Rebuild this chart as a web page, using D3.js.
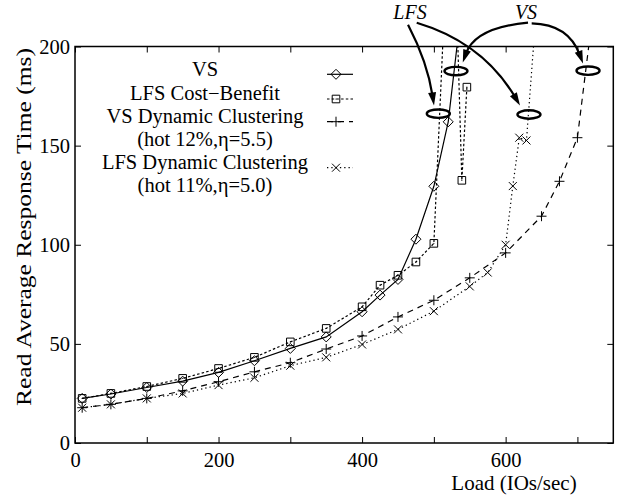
<!DOCTYPE html>
<html>
<head>
<meta charset="utf-8">
<script src="https://cdn.jsdelivr.net/npm/d3@7"></script>
<style>
  body { margin: 0; background: #fff; }
  svg { display: block; }
  text { font-family: "Liberation Serif", "Times New Roman", Times, serif; fill: #000; }
</style>
</head>
<body>
<svg id="chart" width="624" height="497"></svg>
<script>
// ---- data: [load (IOs/sec), read average response time (ms)] ----
const vsPoints = [[10,22.5],[50,24.7],[100,28],[150,31.2],[200,35.6],[250,41.5],[300,47.7],[350,53.5],
  [400,66.2],[425,74.6],[450,82.5],[475,102.8],[500,129.5],[520,162],[545,240]];
const lfsCostBenefitPoints = [[10,22.5],[50,25],[100,28.5],[150,32.6],[200,37.6],[250,43.2],[300,51],[350,57.8],
  [400,68.7],[425,79.6],[450,84.6],[475,91.3],[500,100.7],[516,230],[531,230],[539,132.5],[546,179.5]];
const vsDynamicPoints = [[10,17.8],[50,19.5],[100,22.5],[150,26.3],[200,30.9],[250,35.9],[300,40.5],[350,47.4],
  [400,54],[450,63.6],[500,72],[550,83.3],[600,95.9],[650,114.4],[675,132],[700,154],[726,230]];
const lfsDynamicPoints = [[10,17.8],[50,19.5],[100,22.5],[150,25],[200,29.2],[250,32.9],[300,39],[350,43.2],
  [400,49.7],[450,57.3],[500,66.5],[550,79],[575,86],[600,100],[610,129.6],[619,154],[629,152.6],[645,230]];

const seriesNames = ["VS", "LFS Cost\u2212Benefit", "VS Dynamic Clustering", "LFS Dynamic Clustering"];
const seriesNotes = [null, null, "(hot 12%,\u03b7=5.5)", "(hot 11%,\u03b7=5.0)"];

const xTickValues = [0,100,200,300,400,500,600,700];
const xTickLabels = [0,200,400,600];
const yTickValues = [0,50,100,150,200];

// saturation call-outs (data coordinates)
const calloutLabels = [{text:"LFS", x:466.8, y:214}, {text:"VS", x:628.4, y:214}];
const calloutRings = [[506.2,166.1],[632.5,165.7],[530.8,187.6],[714.8,187.8]];
const calloutArrows = [
  {from:[464,211], ctrl:[491.1,192.2], to:[500.2,170.3]},
  {from:[476.1,212], ctrl:[568.5,202], to:[620,170.3]},
  {from:[631.2,212], ctrl:[557.3,209.6], to:[540.3,191.9]},
  {from:[636.3,211.7], ctrl:[687.7,211.3], to:[707.8,191.4]}
];

// ---- layout ----
const svg = d3.select("#chart");
const plotLeft = 75, plotRight = 613.3, plotTop = 46.5, plotBottom = 443;
const x = d3.scaleLinear().domain([0,750]).range([plotLeft,plotRight]);
const y = d3.scaleLinear().domain([0,200]).range([plotBottom,plotTop]);

svg.append("defs").append("clipPath").attr("id","plotClip")
  .append("rect").attr("x",plotLeft).attr("y",plotTop)
  .attr("width",plotRight-plotLeft).attr("height",plotBottom-plotTop);

// ---- axes (ticks point inward, mirrored on top/right) ----
const fmtX = d => xTickLabels.includes(d) ? d : "";
const axB = svg.append("g").attr("transform",`translate(0,${plotBottom})`)
  .call(d3.axisBottom(x).tickValues(xTickValues).tickSizeInner(-6).tickSizeOuter(0).tickPadding(9).tickFormat(fmtX));
const axT = svg.append("g").attr("transform",`translate(0,${plotTop})`)
  .call(d3.axisTop(x).tickValues(xTickValues).tickSizeInner(-6).tickSizeOuter(0).tickFormat(""));
const axL = svg.append("g").attr("transform",`translate(${plotLeft},0)`)
  .call(d3.axisLeft(y).tickValues(yTickValues).tickSizeInner(-6).tickSizeOuter(0).tickPadding(5));
const axR = svg.append("g").attr("transform",`translate(${plotRight},0)`)
  .call(d3.axisRight(y).tickValues(yTickValues).tickSizeInner(-6).tickSizeOuter(0).tickFormat(""));
[axB,axT,axL,axR].forEach(g => {
  g.select(".domain").remove();
  g.selectAll(".tick line").attr("stroke","#000").attr("stroke-width",1);
  g.selectAll(".tick text").style("font-size","20.5px").attr("fill","#000")
    .style("font-family",'"Liberation Serif","Times New Roman",serif');
});

svg.append("rect").attr("x",plotLeft).attr("y",plotTop)
  .attr("width",plotRight-plotLeft).attr("height",plotBottom-plotTop)
  .attr("fill","none").attr("stroke","#000").attr("stroke-width",1.5);

// axis titles
svg.append("text").attr("x",514).attr("y",489.5).attr("text-anchor","middle")
  .style("font-size","21px").text("Load (IOs/sec)");
svg.append("text").attr("transform","translate(31,227) rotate(-90)").attr("text-anchor","middle")
  .attr("textLength",358).attr("lengthAdjust","spacingAndGlyphs")
  .style("font-size","21px").text("Read Average Response Time (ms)");

// ---- point symbols ----
function drawSymbol(g, kind, cx, cy) {
  const s = g.append("g").attr("transform",`translate(${cx},${cy})`)
    .attr("fill","none").attr("stroke","#000").attr("stroke-width",1);
  if (kind === "diamond") {
    s.append("path").attr("d","M0,-5L5,0L0,5L-5,0Z");
  } else if (kind === "square") {
    s.append("path").attr("d","M-3.8,-3.8H3.8V3.8H-3.8Z");
    s.append("circle").attr("r",0.6).attr("fill","#000").attr("stroke","none");
  } else if (kind === "plus") {
    s.append("path").attr("d","M-5,0H5M0,-5V5");
  } else {
    s.append("path").attr("d","M-4,-4L4,4M-4,4L4,-4");
  }
}

const series = [
  {pts: vsPoints, sym:"diamond", dash:null},
  {pts: lfsCostBenefitPoints, sym:"square", dash:"2.5,2.2"},
  {pts: vsDynamicPoints, sym:"plus", dash:"6,5"},
  {pts: lfsDynamicPoints, sym:"cross", dash:"1.3,3"}
];

const line = d3.line().x(d => x(d[0])).y(d => y(d[1]));
const plot = svg.append("g").attr("clip-path","url(#plotClip)");
series.forEach(s => {
  plot.append("path").datum(s.pts).attr("d",line)
    .attr("fill","none").attr("stroke","#000").attr("stroke-width",1.2)
    .attr("stroke-dasharray",s.dash);
  s.pts.forEach(p => drawSymbol(plot, s.sym, x(p[0]), y(p[1])));
});

// ---- key ----
const keyX1 = 327, keyX2 = 353, keyMark = 336, keyTextX = 205;
const keyRows = [74.3, 99, 121.7, 167.7];
const keyBaselines = [[76],[100],[123,145.8],[169.2,192]];
series.forEach((s,i) => {
  svg.append("line").attr("x1",keyX1).attr("x2",keyX2).attr("y1",keyRows[i]).attr("y2",keyRows[i])
    .attr("stroke","#000").attr("stroke-width",1.2).attr("stroke-dasharray",s.dash);
  drawSymbol(svg, s.sym, keyMark, keyRows[i]);
  svg.append("text").attr("x",keyTextX).attr("y",keyBaselines[i][0]).attr("text-anchor","middle")
    .style("font-size","20.5px").text(seriesNames[i]);
  if (seriesNotes[i]) {
    svg.append("text").attr("x",keyTextX).attr("y",keyBaselines[i][1]).attr("text-anchor","middle")
      .style("font-size","20.5px").text(seriesNotes[i]);
  }
});

// ---- call-outs ----
calloutRings.forEach(r => {
  svg.append("ellipse").attr("cx",x(r[0])).attr("cy",y(r[1])).attr("rx",11.5).attr("ry",4.2)
    .attr("fill","none").attr("stroke","#000").attr("stroke-width",2.4);
});
calloutLabels.forEach(l => {
  svg.append("text").attr("x",x(l.x)).attr("y",y(l.y)).attr("text-anchor","middle")
    .style("font-size","20px").style("font-style","italic").text(l.text);
});
calloutArrows.forEach(a => {
  const p0 = [x(a.from[0]), y(a.from[1])];
  const c = [x(a.ctrl[0]), y(a.ctrl[1])];
  const p2 = [x(a.to[0]), y(a.to[1])];
  const dx = p2[0]-c[0], dy = p2[1]-c[1], len = Math.hypot(dx,dy);
  const ux = dx/len, uy = dy/len;
  const headLen = 13, headHalf = 4;
  const bx = p2[0]-ux*headLen, by = p2[1]-uy*headLen;
  const ex = p2[0]-ux*headLen*0.7, ey = p2[1]-uy*headLen*0.7;
  const path = d3.path();
  path.moveTo(p0[0],p0[1]);
  path.quadraticCurveTo(c[0],c[1],ex,ey);
  svg.append("path").attr("d",path.toString()).attr("fill","none")
    .attr("stroke","#000").attr("stroke-width",2.2);
  svg.append("path")
    .attr("d",`M${p2[0]},${p2[1]}L${bx-uy*headHalf},${by+ux*headHalf}L${bx+uy*headHalf},${by-ux*headHalf}Z`)
    .attr("fill","#000");
});
</script>
</body>
</html>
